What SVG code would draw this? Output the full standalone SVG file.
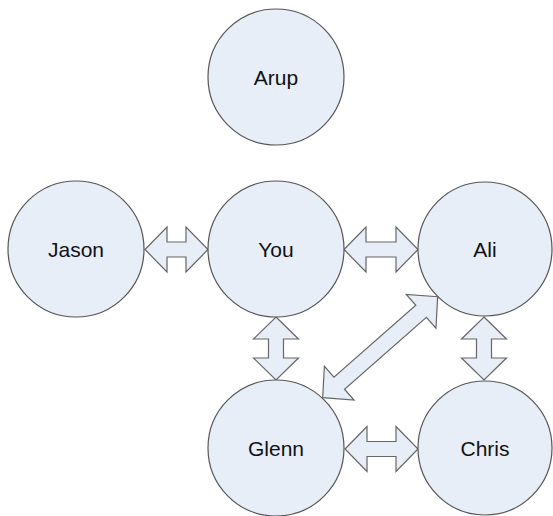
<svg xmlns="http://www.w3.org/2000/svg" width="553" height="516" viewBox="0 0 553 516">
<style>
.node circle{fill:#E8EEF8;stroke:#555;stroke-width:1.2}
.node text{font-family:"Liberation Sans",Arial,sans-serif;font-size:21px;fill:#111;text-anchor:middle}
.conn path{fill:#E8EEF8;stroke:#666;stroke-width:1.2;stroke-linejoin:miter}
</style>
<rect width="553" height="516" fill="#fff"/>
<g id="connectors" class="conn">
<path id="jason-you" transform="translate(145,249.5)" d="M0,0 L22,-22.5 L22,-7.5 L41,-7.5 L41,-22.5 L63,0 L41,22.5 L41,7.5 L22,7.5 L22,22.5 Z"/>
<path id="you-ali" transform="translate(344,249.5)" d="M0,0 L22,-22.5 L22,-7.5 L52,-7.5 L52,-22.5 L74,0 L52,22.5 L52,7.5 L22,7.5 L22,22.5 Z"/>
<path id="glenn-chris" transform="translate(345,449)" d="M0,0 L22,-22.5 L22,-7.5 L51,-7.5 L51,-22.5 L73,0 L51,22.5 L51,7.5 L22,7.5 L22,22.5 Z"/>
<path id="you-glenn" transform="translate(276,317) rotate(90)" d="M0,0 L22,-22.5 L22,-7.5 L41,-7.5 L41,-22.5 L63,0 L41,22.5 L41,7.5 L22,7.5 L22,22.5 Z"/>
<path id="ali-chris" transform="translate(484,317) rotate(90)" d="M0,0 L22,-22.5 L22,-7.5 L41,-7.5 L41,-22.5 L63,0 L41,22.5 L41,7.5 L22,7.5 L22,22.5 Z"/>
<path id="glenn-ali" transform="translate(322.7,397.7) rotate(-41.3)" d="M0,0 L22,-22.5 L22,-8 L131,-8 L131,-22.5 L153,0 L131,22.5 L131,8 L22,8 L22,22.5 Z"/>
</g>
<g id="arup" class="node"><circle cx="276" cy="77" r="68"/><text x="276" y="84.5">Arup</text></g>
<g id="jason" class="node"><circle cx="76" cy="249" r="68"/><text x="76" y="256.5">Jason</text></g>
<g id="you" class="node"><circle cx="276" cy="249" r="68"/><text x="276" y="256.5">You</text></g>
<g id="ali" class="node"><circle cx="485" cy="249" r="67"/><text x="485" y="256.5">Ali</text></g>
<g id="glenn" class="node"><circle cx="276" cy="448" r="68"/><text x="276" y="455.5">Glenn</text></g>
<g id="chris" class="node"><circle cx="485" cy="448" r="67"/><text x="485" y="455.5">Chris</text></g>
</svg>
